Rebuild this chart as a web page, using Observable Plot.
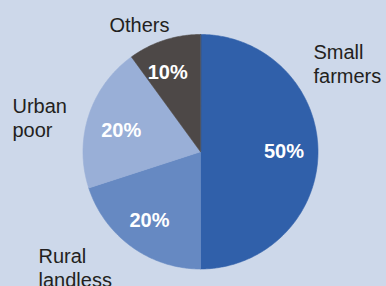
<!DOCTYPE html>
<html><head><meta charset="utf-8">
<script src="https://cdn.jsdelivr.net/npm/d3@7"></script>
<script src="https://cdn.jsdelivr.net/npm/@observablehq/plot@0.6"></script>
<style>html,body{margin:0;padding:0;background:#cdd8ea;overflow:hidden}</style>
</head><body><div id="chart"></div>
<script>
// data
const categories = ["Small farmers", "Rural landless", "Urban poor", "Others"];
const labelLines = ["Small\nfarmers", "Rural\nlandless", "Urban\npoor", "Others"];
const shares = [50, 20, 20, 10];

// styles / layout (kept separate from data)
const colors = ["#3060aa", "#6689c2", "#99afd7", "#4d4847"];
const R = 117.5; // pixel radius
// outer label anchors (left x, last-line baseline) in pixels relative to centre
const outerPos = [[113, 69], [-162, -136], [-188, 15], [-91, 120]];
// small nudges of percentage labels in pixels
const pctNudge = [[0, 0], [-2, -1], [0, -4.5], [-7, 0]];

const arcs = d3.pie().sort(null).value(d => d)(shares);
const pts = [];
arcs.forEach((a, i) => {
  pts.push({name: categories[i], x: 0, y: 0});
  const n = Math.max(2, Math.ceil((a.endAngle - a.startAngle) / 0.01));
  for (let k = 0; k <= n; k++) {
    const t = a.startAngle + (a.endAngle - a.startAngle) * k / n;
    pts.push({name: categories[i], x: Math.sin(t), y: Math.cos(t)});
  }
});
const pct = arcs.map((a, i) => {
  const m = (a.startAngle + a.endAngle) / 2, r = 0.71;
  return {name: categories[i], text: shares[i] + "%",
    x: r * Math.sin(m) + pctNudge[i][0] / R, y: r * Math.cos(m) + pctNudge[i][1] / R};
});
const outer = categories.map((c, i) => ({
  name: c, text: labelLines[i], x: outerPos[i][0] / R, y: outerPos[i][1] / R
}));

const chart = Plot.plot({
  width: 386, height: 286,
  marginLeft: 82.5, marginRight: 68.5, marginTop: 34, marginBottom: 17.5,
  style: {background: "#cdd8ea", fontFamily: "Liberation Sans, Arial, sans-serif", overflow: "visible"},
  x: {domain: [-1, 1], axis: null},
  y: {domain: [-1, 1], axis: null},
  color: {domain: categories, range: colors},
  marks: [
    Plot.line(pts, {x: "x", y: "y", z: "name", fill: "name", stroke: "name", strokeWidth: 0.6, curve: "linear-closed"}),
    Plot.text(pct, {x: "x", y: "y", text: "text", fill: "white", fontSize: 20, fontWeight: "bold", textAnchor: "middle", lineAnchor: "middle"}),
    Plot.text(outer, {x: "x", y: "y", text: "text", fill: "#231f20", fontSize: 20, textAnchor: "start", lineAnchor: "bottom", lineHeight: 1.2})
  ]
});
document.getElementById("chart").appendChild(chart);
</script></body></html>
